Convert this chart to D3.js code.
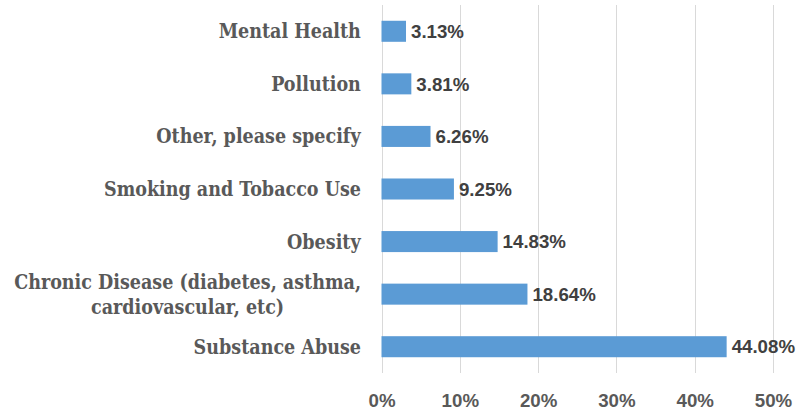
<!DOCTYPE html>
<html><head><meta charset="utf-8">
<script src="https://cdn.jsdelivr.net/npm/d3@7"></script>
<style>body{margin:0;background:#fff}svg{display:block}</style>
</head><body>
<svg id="c" width="801" height="413"></svg>
<script>
const categories = [
  ["Mental Health"],
  ["Pollution"],
  ["Other, please specify"],
  ["Smoking and Tobacco Use"],
  ["Obesity"],
  ["Chronic Disease (diabetes, asthma,", "cardiovascular, etc)"],
  ["Substance Abuse"]
];
const values = [3.13, 3.81, 6.26, 9.25, 14.83, 18.64, 44.08];
const ticks = [0, 10, 20, 30, 40, 50];

(function () {
const svg = d3.select("#c");
const pLeft = 381.5, pRight = 773, pTop = 5, pBottom = 373;
const x = d3.scaleLinear().domain([0, 50]).range([pLeft, pRight]);
const y = d3.scaleBand().domain(d3.range(categories.length)).range([pTop, pBottom]).paddingInner(0.6).paddingOuter(0.3);

// gridlines
svg.append("g").selectAll("line").data(ticks).join("line")
  .attr("x1", d => Math.round(x(d)) + 0.5).attr("x2", d => Math.round(x(d)) + 0.5)
  .attr("y1", pTop).attr("y2", pBottom)
  .attr("stroke", "#d9d9d9").attr("stroke-width", 1);

// x axis tick labels
const xa = d3.axisBottom(x).tickValues(ticks).tickFormat(d => d + "%").tickSize(0).tickPadding(0);
const gx = svg.append("g").attr("transform", `translate(0,${pBottom})`).call(xa);
gx.select(".domain").remove();
gx.selectAll("text").attr("y", 34).attr("dy", 0)
  .attr("font-family", "Liberation Sans, Arial, sans-serif").attr("font-weight", "bold")
  .attr("font-size", 18.7).attr("fill", "#595959");

// bars
svg.append("g").selectAll("rect").data(values).join("rect")
  .attr("x", x(0)).attr("y", (d, i) => y(i))
  .attr("width", d => x(d) - x(0)).attr("height", y.bandwidth())
  .attr("fill", "#5b9bd5");

// value labels
svg.append("g").selectAll("text").data(values).join("text")
  .attr("x", d => x(d) + 5).attr("y", (d, i) => y(i) + y.bandwidth() / 2)
  .attr("dy", "0.36em")
  .attr("font-family", "Liberation Sans, Arial, sans-serif").attr("font-weight", "bold")
  .attr("font-size", 18.7).attr("fill", "#404040")
  .text(d => d.toFixed(2) + "%");

// category labels
const gl = svg.append("g");
categories.forEach((lines, i) => {
  const cy = y(i) + y.bandwidth() / 2;
  const n = lines.length, lh = 25;
  const t = gl.append("text")
    .attr("text-anchor", "middle")
    .attr("font-family", "DejaVu Serif Condensed, DejaVu Serif, serif")
    .style("font-stretch", "condensed")
    .attr("font-weight", "bold")
    .attr("font-size", 19.5).attr("fill", "#595959");
  lines.forEach((s, k) => {
    t.append("tspan").attr("x", 0).attr("y", cy + (k - (n - 1) / 2) * lh).attr("dy", "0.36em").text(s);
  });
  const bb = t.node().getBBox();
  t.attr("transform", `translate(${361 - bb.width / 2},0)`);
});
})();
</script>
</body></html>
